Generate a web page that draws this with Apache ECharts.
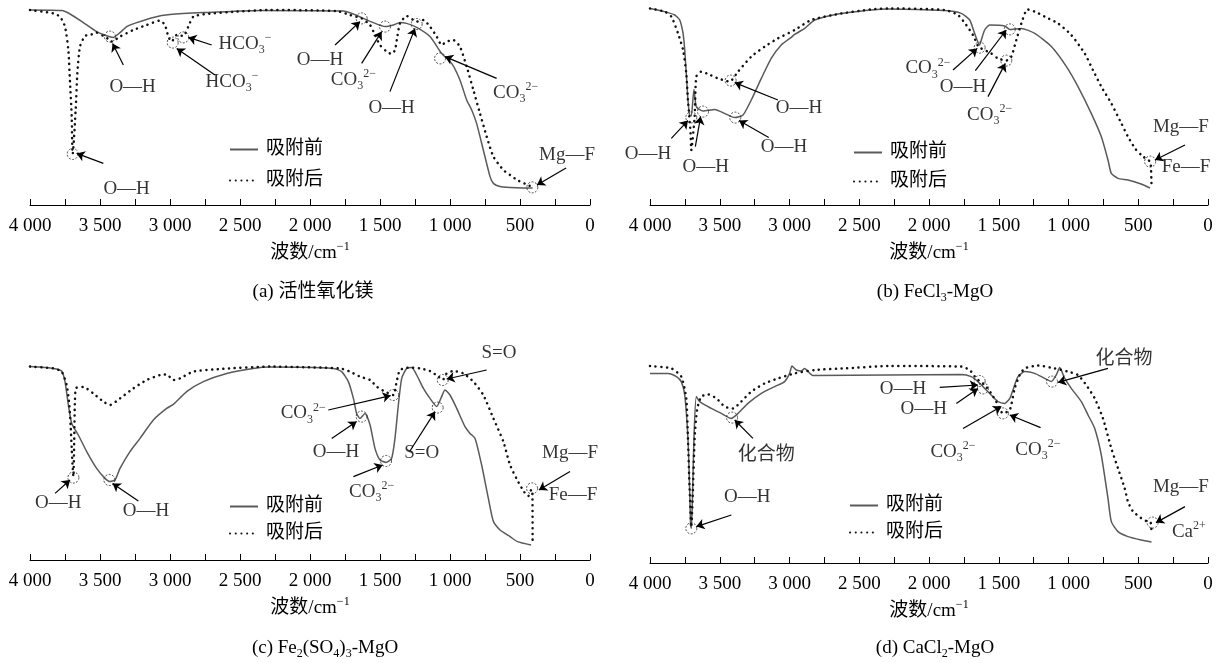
<!DOCTYPE html>
<html>
<head>
<meta charset="utf-8">
<script src="https://cdn.jsdelivr.net/npm/echarts@6.0.0/dist/echarts.min.js"></script>
<style>
  html, body { margin: 0; padding: 0; background: #fff; }
  #chart { width: 1222px; height: 663px; }
</style>
</head>
<body>
<div id="chart"></div>
<script>
const FONT = "'Liberation Serif', 'Times New Roman', 'Noto Sans CJK SC', serif";
const CO3 = "CO{sub|3}{sup|2−}";
const HCO3 = "HCO{sub|3}{sup|−}";
const OH = "O—H";

// x axis: wavenumber, shown 4000 -> 0
const xTicks = [4000, 3500, 3000, 2500, 2000, 1500, 1000, 500, 0];
const seriesNames = ["吸附前", "吸附后"];
const xTitle = "波数/cm{sup|−1}";

// (a) 活性氧化镁
const aBefore = [[4000, 97.5], [3774, 97.2], [3714, 95.5], [3619, 91.2], [3524, 86.7], [3448, 84.5], [3405, 83.8], [3357, 86.2], [3309, 89.2], [3238, 91.2], [3119, 93.8], [3000, 95.2], [2762, 96.2], [2357, 97.3], [1762, 97], [1690, 95.5], [1619, 93.3], [1548, 91.2], [1464, 89.2], [1405, 90], [1357, 91.2], [1310, 90.8], [1238, 88.8], [1143, 84.2], [1060, 75.8], [988, 70.8], [929, 62.5], [881, 52.5], [845, 47.5], [810, 40.8], [762, 27.5], [714, 14.2], [690, 10.8], [643, 9.2], [571, 8.7], [480, 8.5], [410, 8.5]];
const aAfter = [[4000, 97.5], [3833, 95.8], [3786, 94.2], [3750, 89.2], [3726, 77.5], [3714, 61], [3702, 44.2], [3698, 29.2], [3695, 25.5], [3674, 47.5], [3662, 65.8], [3643, 79.2], [3607, 84.5], [3560, 85.3], [3524, 86.2], [3476, 84.5], [3440, 83], [3417, 81.7], [3357, 84.2], [3262, 87.5], [3167, 90], [3071, 92.2], [3036, 90], [3012, 84.2], [2988, 81.7], [2952, 85], [2905, 84.5], [2869, 89.2], [2833, 94.2], [2738, 95.5], [2524, 96.7], [2286, 97.5], [1810, 97], [1714, 95], [1631, 93.3], [1571, 90], [1536, 85], [1500, 80], [1452, 76.7], [1417, 75.5], [1393, 77.5], [1376, 84.2], [1357, 90.8], [1310, 94.5], [1238, 91.7], [1190, 92.5], [1143, 89.2], [1095, 84.2], [1060, 80], [1024, 81.7], [976, 82.5], [929, 79.2], [881, 69.2], [833, 57.5], [786, 45.8], [738, 34.2], [690, 24.2], [619, 17.5], [571, 15], [520, 12.5], [460, 10.5], [410, 9]];
const aCircles = [[3695, 25.5], [3429, 84.2], [2981, 81.2], [2905, 83.8], [1631, 93.3], [1464, 89.2], [1238, 90.5], [1071, 73.3], [412, 8.8]];
const aArrows = [[3476, 20.8, 3667, 25.8], [3333, 70, 3410, 80.8], [2702, 80, 2869, 83.8], [2679, 65, 2952, 78.3], [1821, 80, 1643, 91.7], [1631, 70.8, 1488, 86.7], [1429, 56.7, 1250, 88.3], [667, 63.3, 1036, 74.2], [171, 18.5, 379, 10]];
const aLabels = [[3310, 8, OH], [3267, 58.8, OH], [2464, 80.5, HCO3], [2557, 61.5, HCO3], [1929, 72.5, OH], [1690, 62.5, CO3], [1417, 48.3, OH], [531, 56, CO3], [164, 25, "Mg—F"]];

// (b) FeCl3-MgO
const bBefore = [[4000, 98.3], [3895, 96.7], [3823, 95], [3787, 92.5], [3763, 85.8], [3751, 77.5], [3740, 65.8], [3728, 52.5], [3716, 45], [3704, 44.5], [3685, 57.8], [3668, 49.2], [3620, 47], [3536, 47.8], [3465, 45.8], [3393, 43.7], [3333, 45], [3274, 52.5], [3202, 63.3], [3131, 73.3], [3059, 80], [2987, 83.8], [2963, 85.3], [2891, 88.3], [2819, 92.5], [2652, 95.5], [2414, 97.5], [2294, 98], [1888, 97.2], [1769, 95.8], [1708, 92.5], [1673, 85.8], [1637, 80], [1625, 82.5], [1601, 87.5], [1565, 90], [1457, 89.5], [1421, 87.8], [1338, 88.3], [1242, 85.8], [1123, 79.2], [1015, 69.2], [932, 59.2], [837, 45.8], [765, 34.2], [717, 22.5], [693, 15.8], [645, 13.3], [574, 12.5], [480, 10.5], [416, 8.5]];
const bAfter = [[4000, 98.3], [3895, 96.7], [3847, 94.2], [3799, 85.8], [3763, 77.5], [3740, 65.8], [3728, 52.5], [3709, 35.8], [3704, 27.5], [3680, 44.2], [3668, 64.2], [3632, 66.7], [3584, 65.5], [3513, 63.3], [3429, 61.7], [3369, 66.7], [3274, 74.2], [3178, 79.2], [3083, 83.3], [2963, 87.5], [2844, 92.5], [2652, 95.5], [2414, 97.8], [2294, 98.3], [1888, 97.5], [1792, 95], [1733, 90], [1685, 85], [1649, 79.5], [1637, 78.7], [1554, 75.8], [1506, 73.3], [1446, 72.2], [1410, 74.2], [1374, 82.5], [1338, 90.8], [1295, 97.8], [1242, 96.7], [1171, 94.2], [1075, 90.8], [980, 85], [884, 75.8], [825, 67.5], [765, 59.2], [693, 50.8], [621, 40.8], [574, 34.2], [520, 28], [470, 24.5], [430, 22.5], [412, 21.5], [405, 10]];
const bCircles = [[3704, 43.8], [3620, 46.7], [3422, 62.2], [3389, 43.7], [1637, 78.7], [1421, 87.8], [1446, 72.2], [415, 21.7]];
const bArrows = [[3847, 33.3, 3728, 42.2], [3675, 29.2, 3637, 44.2], [3083, 52.5, 3393, 61.2], [3149, 33.8, 3362, 42.2], [1828, 67.5, 1654, 78.3], [1668, 67.2, 1446, 87.5], [1577, 54.2, 1453, 70.8], [165, 30, 380, 22.5]];
const bLabels = [[4014, 25.5, OH], [3600, 19.2, OH], [2932, 48.3, OH], [3040, 29.2, OH], [2007, 68.3, CO3], [1756, 58.8, OH], [1565, 45, CO3], [194, 39.2, "Mg—F"], [158, 19.2, "Fe—F"]];

// (c) Fe2(SO4)3-MgO
const cBefore = [[4000, 96.7], [3833, 95.8], [3774, 94.5], [3750, 89.2], [3726, 77.5], [3702, 68.3], [3655, 62.5], [3595, 54.2], [3524, 45.8], [3464, 40.8], [3429, 39.2], [3393, 40], [3357, 45.8], [3286, 54.2], [3214, 60.8], [3119, 70], [3024, 75.8], [2976, 77.8], [2881, 84.2], [2762, 89.2], [2595, 93.3], [2405, 95.8], [2286, 96.5], [1833, 95.8], [1774, 94.2], [1726, 89.2], [1690, 80.8], [1667, 73.3], [1643, 70.8], [1607, 73.3], [1571, 67.5], [1536, 55.8], [1500, 50], [1457, 48.8], [1417, 50.8], [1393, 60.8], [1369, 77.5], [1345, 90.8], [1310, 95.8], [1274, 96.2], [1238, 92.5], [1190, 85.8], [1143, 80.8], [1095, 76.7], [1060, 81.7], [1036, 85], [1000, 82.5], [952, 75.8], [893, 66.7], [857, 63.3], [821, 60.8], [774, 47.5], [726, 30.8], [690, 19.2], [643, 15], [571, 11.7], [518, 9.2], [421, 7.5]];
const cAfter = [[4000, 96.7], [3833, 95.8], [3774, 94.2], [3738, 87.5], [3719, 77.5], [3710, 67.5], [3702, 55.8], [3695, 45.8], [3690, 41.7], [3684, 60], [3679, 80], [3670, 86], [3619, 86.5], [3548, 83.3], [3476, 79.2], [3429, 77.5], [3357, 80.8], [3262, 85.8], [3167, 90], [3071, 92.5], [3024, 92.8], [2976, 90], [2929, 90.8], [2833, 94.2], [2643, 95.5], [2286, 96.7], [1786, 95.8], [1714, 94.2], [1643, 91.7], [1571, 90], [1524, 86.7], [1464, 84.2], [1405, 82.5], [1381, 89.2], [1357, 95], [1286, 96.2], [1214, 95.8], [1143, 94.5], [1083, 91.7], [1052, 90], [1024, 93.3], [976, 94.5], [905, 93.3], [833, 89.2], [762, 82.5], [690, 70.8], [619, 59.2], [571, 47.5], [520, 40], [470, 34], [440, 32], [420, 35], [412, 35], [410, 7.5]];
const cCircles = [[3690, 41.2], [3433, 40], [1405, 82.5], [1631, 71.7], [1457, 49.5], [1088, 76.2], [1052, 90], [414, 35.8]];
const cArrows = [[3821, 33.3, 3714, 40], [3226, 29.5, 3410, 38.3], [1869, 75, 1424, 82.2], [1845, 60.8, 1667, 69.2], [1690, 41.7, 1481, 47.5], [1286, 54.5, 1107, 74.2], [738, 95, 1024, 90.5], [143, 44.2, 365, 35]];
const cLabels = [[3798, 28.3, OH], [3171, 24.5, OH], [2048, 73.3, CO3], [1814, 54.2, OH], [1560, 34.2, CO3], [1202, 53.3, "S=O"], [650, 103.3, "S=O"], [143, 53.3, "Mg—F"], [121, 32.5, "Fe—F"]];

// (d) CaCl2-MgO
const dBefore = [[4000, 94.8], [3871, 94.8], [3811, 93.2], [3776, 90.7], [3751, 84], [3728, 62.3], [3716, 37.3], [3709, 19], [3704, 17.3], [3697, 29], [3685, 62.3], [3668, 83.2], [3644, 80.7], [3561, 77.3], [3489, 74.8], [3417, 72.3], [3369, 74.8], [3298, 79.8], [3202, 84.8], [3106, 88.2], [3035, 90.7], [2999, 94.8], [2982, 98.5], [2951, 96.5], [2916, 96], [2891, 97.3], [2867, 95.7], [2832, 93.7], [2294, 94], [1769, 94.3], [1697, 93.2], [1649, 90.7], [1601, 87.3], [1554, 84], [1506, 80.7], [1457, 79.8], [1421, 82.3], [1386, 89], [1362, 93.2], [1314, 95.7], [1242, 94.8], [1171, 92.3], [1123, 90.7], [1088, 94], [1063, 97.7], [1027, 92.3], [980, 87.3], [908, 80.7], [860, 74], [812, 67.3], [765, 54], [717, 32.3], [693, 20.7], [645, 15.7], [574, 13.2], [480, 11.5], [405, 10.5]];
const dAfter = [[4000, 98.5], [3847, 97.3], [3776, 93.2], [3740, 82.3], [3728, 62.3], [3716, 37.3], [3704, 18], [3692, 37.3], [3680, 62.3], [3661, 77.3], [3632, 83.2], [3584, 84.3], [3524, 82.3], [3465, 78.2], [3405, 77.3], [3346, 80.7], [3274, 85.7], [3178, 89.8], [3083, 92.3], [2963, 94.8], [2819, 96.5], [2604, 97.3], [2294, 98.5], [1769, 98.2], [1708, 96.5], [1661, 92.3], [1601, 89], [1554, 84.8], [1518, 80.7], [1470, 74.8], [1421, 76.5], [1386, 87.3], [1350, 94], [1314, 97.3], [1219, 98.7], [1099, 97.3], [1004, 95.7], [932, 94], [873, 89], [812, 82.3], [753, 72.3], [693, 57.3], [645, 47.3], [597, 37.3], [574, 30.7], [540, 26], [480, 22.5], [430, 20.5], [410, 20], [405, 15]];
const dCircles = [[3704, 17.3], [3412, 72.7], [1637, 91], [1613, 87.3], [1470, 74.8], [1118, 90.7], [397, 20.2]];
const dArrows = [[3417, 24, 3668, 18.2], [3262, 62.3, 3393, 71.5], [1923, 87.8, 1649, 89], [1804, 79.8, 1649, 87.3], [1756, 67.3, 1482, 78.2], [1200, 67.7, 1421, 74], [717, 97.3, 1075, 90.3], [165, 28.2, 373, 20.2]];
const dLabels = [[3303, 33.2, OH], [3166, 54, "化合物"], [2187, 87, OH], [2038, 77, OH], [1828, 55.7, CO3], [1219, 56.5, CO3], [602, 101.8, "化合物"], [194, 38.2, "Mg—F"], [137, 15.7, "Ca{sup|2+}"]];

const panels = [
  { before: aBefore, after: aAfter, circles: aCircles, arrows: aArrows, labels: aLabels,
    grid: { left: 30, top: 5, width: 560, height: 200 }, legend: { left: 224, top: 135, itemGap: 12 },
    caption: { x: 313, y: 292, text: "(a) 活性氧化镁" } },
  { before: bBefore, after: bAfter, circles: bCircles, arrows: bArrows, labels: bLabels,
    grid: { left: 650, top: 5, width: 558, height: 200 }, legend: { left: 848, top: 138, itemGap: 10 },
    caption: { x: 935, y: 292, text: "(b) FeCl{sub|3}-MgO" } },
  { before: cBefore, after: cAfter, circles: cCircles, arrows: cArrows, labels: cLabels,
    grid: { left: 30, top: 360, width: 560, height: 200 }, legend: { left: 224, top: 492, itemGap: 8 },
    caption: { x: 325, y: 648, text: "(c) Fe{sub|2}(SO{sub|4}){sub|3}-MgO" } },
  { before: dBefore, after: dAfter, circles: dCircles, arrows: dArrows, labels: dLabels,
    grid: { left: 650, top: 363, width: 558, height: 200 }, legend: { left: 844, top: 491, itemGap: 8 },
    caption: { x: 935, y: 648, text: "(d) CaCl{sub|2}-MgO" } },
];

const richStyles = {
  sub: { fontFamily: FONT, fontSize: 12, lineHeight: 12, verticalAlign: "bottom", color: "#000" },
  sup: { fontFamily: FONT, fontSize: 12, lineHeight: 12, verticalAlign: "top", color: "#000" },
};

const formatTick = (v) => {
  if (v >= 1000) return `${Math.floor(v / 1000)} ${String(v % 1000).padStart(3, "0")}`;
  return String(v);
};

const series = [];
panels.forEach((p, i) => {
  const axes = { xAxisIndex: i, yAxisIndex: i };
  series.push({
    name: seriesNames[0], type: "line", ...axes, data: p.before,
    symbol: "none", smooth: 0.2, z: 2,
    lineStyle: { color: "#5a5a5a", width: 1.5 }, itemStyle: { color: "#5a5a5a" },
  });
  series.push({
    name: seriesNames[1], type: "line", ...axes, data: p.after,
    symbol: "none", smooth: 0.2, z: 3,
    lineStyle: { color: "#111", width: 2.5, type: [0.1, 5.6], cap: "round" }, itemStyle: { color: "#111" },
  });
  series.push({
    type: "scatter", ...axes, data: p.circles, symbolSize: 11, clip: false, silent: true, z: 4,
    itemStyle: { color: "rgba(0,0,0,0)", borderColor: "#222", borderWidth: 1, borderType: [2, 1.5] },
  });
  series.push({
    type: "lines", coordinateSystem: "cartesian2d", ...axes, silent: true, z: 5,
    data: p.arrows.map((a) => ({ coords: [[a[0], a[1]], [a[2], a[3]]] })),
    symbol: ["none", "arrow"], symbolSize: 8,
    lineStyle: { color: "#000", width: 1.2, opacity: 1 },
  });
  series.push({
    type: "scatter", ...axes, data: p.labels, symbolSize: 1, clip: false, silent: true, z: 6,
    itemStyle: { color: "rgba(0,0,0,0)" },
    label: {
      show: true, position: "inside", formatter: (d) => d.data[2],
      fontFamily: FONT, fontSize: 19, color: "#000", lineHeight: 24, rich: richStyles,
    },
  });
});

const option = {
  animation: false,
  backgroundColor: "#fff",
  grid: panels.map((p) => p.grid),
  xAxis: panels.map((p, i) => ({
    type: "value", gridIndex: i, inverse: true, min: xTicks[xTicks.length - 1], max: xTicks[0], interval: 500,
    axisLine: { show: true, onZero: false, lineStyle: { color: "#000", width: 1 } },
    axisTick: { show: true, inside: true, length: 6, lineStyle: { color: "#000" } },
    minorTick: { show: true, splitNumber: 2, length: 6, lineStyle: { color: "#000" } },
    splitLine: { show: false },
    axisLabel: { margin: 12, color: "#000", fontFamily: FONT, fontSize: 19, formatter: formatTick, showMinLabel: true, showMaxLabel: true },
    name: xTitle, nameLocation: "middle", nameGap: 36,
    nameTextStyle: { fontFamily: FONT, fontSize: 19, color: "#000", lineHeight: 24, rich: richStyles },
  })),
  yAxis: panels.map((p, i) => ({ type: "value", gridIndex: i, min: 0, max: 100, show: false })),
  legend: panels.map((p) => ({
    orient: "vertical", left: p.legend.left, top: p.legend.top, itemGap: p.legend.itemGap,
    itemWidth: 28, itemHeight: 12, data: seriesNames, selectedMode: false,
    itemStyle: { color: "rgba(0,0,0,0)", borderColor: "rgba(0,0,0,0)", borderWidth: 0 },
    textStyle: { fontFamily: FONT, fontSize: 19, color: "#000", padding: [0, 0, 0, 3] },
  })),
  graphic: panels.map((p) => ({
    type: "text", x: p.caption.x, y: p.caption.y, silent: true,
    style: {
      text: p.caption.text, fill: "#000", font: `19px ${FONT}`, lineHeight: 24,
      align: "center", textAlign: "center", verticalAlign: "middle", textVerticalAlign: "middle",
      rich: richStyles,
    },
  })),
  series,
};

const chart = echarts.init(document.getElementById("chart"), null, { renderer: "canvas" });
chart.setOption(option);
</script>
</body>
</html>
